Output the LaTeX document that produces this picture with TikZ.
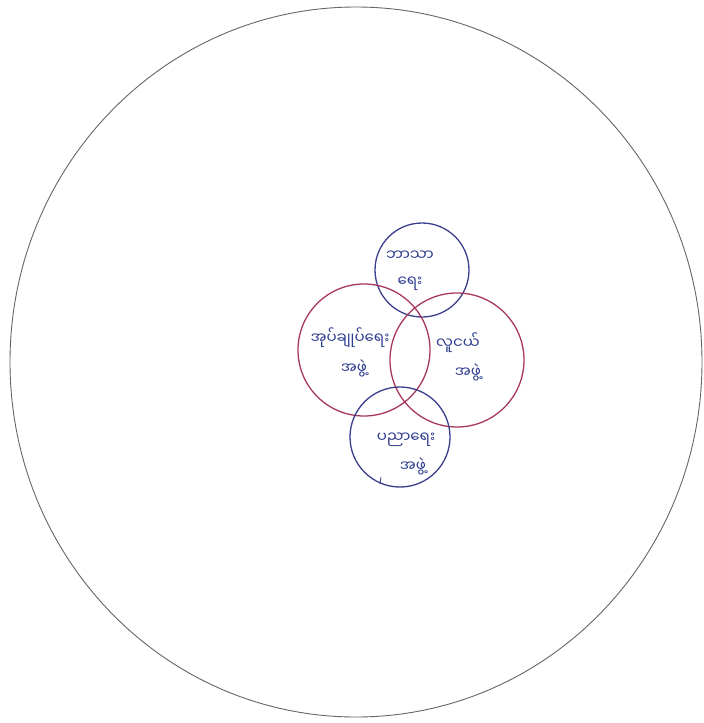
\documentclass[tikz,border=0pt]{standalone}
\usepackage{fontspec}
\newfontfamily\myan[Script=Myanmar]{Noto Sans Myanmar UI}
\definecolor{inkblue}{HTML}{3B3F8C}
\definecolor{inkred}{HTML}{A8385A}
\definecolor{textblue}{HTML}{2E3C8E}
\begin{document}
\begin{tikzpicture}[x=1pt,y=-1pt,
  bluering/.style={draw=inkblue,line width=1.3pt},
  redring/.style={draw=inkred,line width=1.3pt},
  lbl/.style={text=textblue,font=\myan\fontsize{15}{17}\selectfont,inner sep=0pt}]
\useasboundingbox (0,0) rectangle (704,723);
\fill[white] (0,0) rectangle (704,723);
% outer circle
\draw[draw=black!60,line width=0.9pt] (356,362) ellipse [x radius=346,y radius=355];
% rings
\node[bluering,circle,minimum size=94pt,inner sep=0pt] (top) at (422,270) {};
\node[redring,circle,minimum size=132pt,inner sep=0pt] (left) at (364,350) {};
\node[redring,circle,minimum size=134pt,inner sep=0pt] (right) at (457,360) {};
\node[bluering,circle,minimum size=100pt,inner sep=0pt] (bottom) at (400,437) {};
% labels
\node[lbl] (t1) at (410,256) {ဘာသာ};
\node[lbl] (t2) at (410,284) {ရေး};
\node[lbl] (l1) at (350,338) {အုပ်ချုပ်ရေး};
\node[lbl] (l2) at (354,368) {အဖွဲ့};
\node[lbl] (r1) at (458,343) {လူငယ်};
\node[lbl] (r2) at (468,372) {အဖွဲ့};
\node[lbl] (b1) at (406,440) {ပညာရေး};
\node[lbl] (b2) at (413,466) {အဖွဲ့};
% stray pen mark
\coordinate (m1) at (381,477);
\coordinate (m2) at (380,484);
\draw[inkblue,line width=0.8pt] (m1) -- (m2);
\end{tikzpicture}
\end{document}
